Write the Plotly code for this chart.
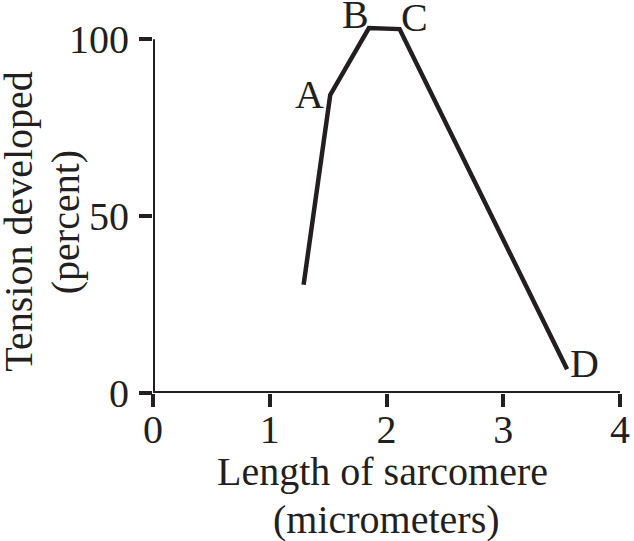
import plotly.graph_objects as go

# Data
sarcomere_length = [1.29, 1.518, 1.849, 2.112, 3.547]
tension = [30.6, 84.3, 103.2, 102.9, 6.7]
point_labels = ["", "A", "B", "C", "D"]
x_ticks = [0, 1, 2, 3, 4]
y_ticks = [0, 50, 100]

INK = "#231F20"
FONT = "Liberation Serif"
W, H = 634, 541
ML, MR, MT, MB = 153, 10, 4, 148
YMAX = 110

fig = go.Figure()
fig.add_trace(go.Scatter(
    x=sarcomere_length, y=tension, mode="lines",
    line=dict(color=INK, width=4.5), showlegend=False, hoverinfo="skip",
))

# label offsets (pixels) relative to each labelled point
offsets = {"A": (-21, 0), "B": (-13, 14), "C": (15, 12), "D": (17, 6)}
for xv, yv, lab in zip(sarcomere_length, tension, point_labels):
    if not lab:
        continue
    dx, dy = offsets[lab]
    fig.add_annotation(x=xv, y=yv, text=lab, showarrow=False,
                       xanchor="center", yanchor="middle", xshift=dx, yshift=dy,
                       font=dict(family=FONT, size=40, color=INK))

# axis lines as shapes
fig.add_shape(type="line", xref="x", yref="y", x0=0, x1=x_ticks[-1], y0=0, y1=0,
              line=dict(color=INK, width=4))
fig.add_shape(type="line", xref="x", yref="y", x0=0, x1=0, y0=0, y1=y_ticks[-1],
              line=dict(color=INK, width=4))

pw = W - ML - MR
ph = H - MT - MB


def px2paper(px, py):
    return (px - ML) / pw, (H - MB - py) / ph


# axis titles as annotations
for text, (px, py) in [("Length of sarcomere", (384, 472)),
                       ("(micrometers)", (388, 519))]:
    xp, yp = px2paper(px, py)
    fig.add_annotation(x=xp, y=yp, xref="paper", yref="paper", text=text,
                       showarrow=False, xanchor="center", yanchor="middle",
                       font=dict(family=FONT, size=40, color=INK))
for text, (px, py) in [("Tension developed", (16.5, 222)),
                       ("(percent)", (64.5, 222))]:
    xp, yp = px2paper(px, py)
    fig.add_annotation(x=xp, y=yp, xref="paper", yref="paper", text=text,
                       textangle=-90, showarrow=False, xanchor="center", yanchor="middle",
                       font=dict(family=FONT, size=40, color=INK))

fig.update_xaxes(range=[0, 4], tickvals=x_ticks, ticktext=[str(v) for v in x_ticks],
                 showgrid=False, zeroline=False, showline=False,
                 ticks="outside", ticklen=13, tickwidth=4, tickcolor=INK,
                 ticklabelstandoff=-12,
                 tickfont=dict(family=FONT, size=40, color=INK))
fig.update_yaxes(range=[0, YMAX], tickvals=y_ticks, ticktext=[str(v) for v in y_ticks],
                 showgrid=False, zeroline=False, showline=False,
                 ticks="outside", ticklen=13, tickwidth=4, tickcolor=INK,
                 ticklabelstandoff=2,
                 tickfont=dict(family=FONT, size=40, color=INK))

fig.update_layout(width=W, height=H, margin=dict(l=ML, r=MR, t=MT, b=MB),
                  plot_bgcolor="white", paper_bgcolor="white")

fig.write_html("out.html", config={"displayModeBar": False},
               post_script="document.body.style.margin='0px';document.body.style.overflow='hidden';")
